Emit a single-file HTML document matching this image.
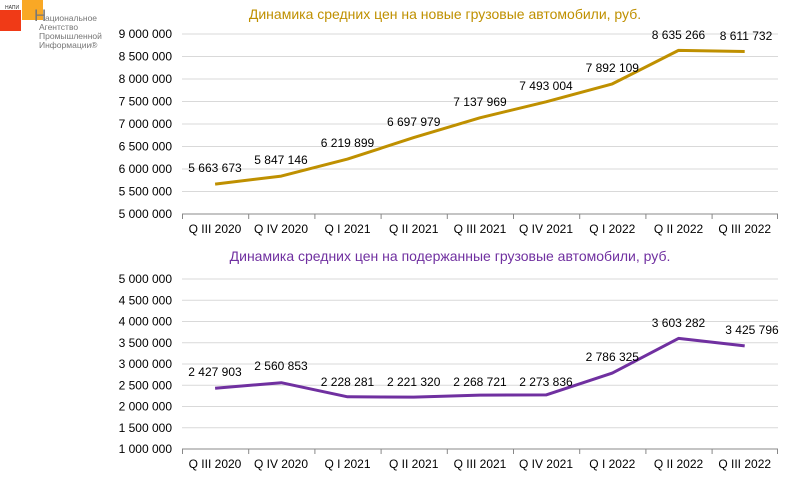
<!DOCTYPE html>
<html><head><meta charset="utf-8"><style>
body{margin:0;background:#fff;}
svg{display:block;font-family:"Liberation Sans",sans-serif;}
</style></head><body>
<svg width="800" height="486" viewBox="0 0 800 486" xmlns="http://www.w3.org/2000/svg">
<!-- logo -->
<rect x="0" y="10" width="21" height="21" fill="#f03a17"/>
<rect x="22" y="0" width="21" height="20" fill="#f9a825"/>
<text x="5" y="9" font-size="5" fill="#333">НАПИ</text>
<text x="34" y="21" font-size="17" fill="#777">Н</text>
<text x="45" y="21" font-size="8.5" fill="#777">ациональное</text>
<text x="39" y="30" font-size="8.5" fill="#777">Агентство</text>
<text x="39" y="39" font-size="8.5" fill="#777">Промышленной</text>
<text x="39" y="48" font-size="8.5" fill="#777">Информации®</text>

<!-- chart 1 -->
<text x="445" y="19" font-size="14" fill="#bf9000" text-anchor="middle">Динамика средних цен на новые грузовые автомобили, руб.</text>
<g stroke="#d9d9d9" stroke-width="1">
<line x1="182" x2="778" y1="34" y2="34"/><line x1="182" x2="778" y1="56.5" y2="56.5"/><line x1="182" x2="778" y1="79" y2="79"/><line x1="182" x2="778" y1="101.5" y2="101.5"/><line x1="182" x2="778" y1="124" y2="124"/><line x1="182" x2="778" y1="146.5" y2="146.5"/><line x1="182" x2="778" y1="169" y2="169"/><line x1="182" x2="778" y1="191.5" y2="191.5"/>
</g>
<g stroke="#888" stroke-width="1"><line x1="182" x2="778" y1="214" y2="214"/>
<line x1="182.5" x2="182.5" y1="214" y2="219"/><line x1="248.7" x2="248.7" y1="214" y2="219"/><line x1="314.9" x2="314.9" y1="214" y2="219"/><line x1="381.1" x2="381.1" y1="214" y2="219"/><line x1="447.3" x2="447.3" y1="214" y2="219"/><line x1="513.5" x2="513.5" y1="214" y2="219"/><line x1="579.7" x2="579.7" y1="214" y2="219"/><line x1="645.9" x2="645.9" y1="214" y2="219"/><line x1="712.1" x2="712.1" y1="214" y2="219"/><line x1="777.5" x2="777.5" y1="214" y2="219"/></g>
<g font-size="12" fill="#000" text-anchor="end">
<text x="172" y="38">9 000 000</text><text x="172" y="60.5">8 500 000</text><text x="172" y="83">8 000 000</text><text x="172" y="105.5">7 500 000</text><text x="172" y="128">7 000 000</text><text x="172" y="150.5">6 500 000</text><text x="172" y="173">6 000 000</text><text x="172" y="195.5">5 500 000</text><text x="172" y="218">5 000 000</text>
</g>
<g font-size="12" fill="#000" text-anchor="middle">
<text x="215" y="233">Q III 2020</text><text x="281" y="233">Q IV 2020</text><text x="347.5" y="233">Q I 2021</text><text x="413.7" y="233">Q II 2021</text><text x="480" y="233">Q III 2021</text><text x="546" y="233">Q IV 2021</text><text x="612.3" y="233">Q I 2022</text><text x="678.5" y="233">Q II 2022</text><text x="744.7" y="233">Q III 2022</text>
</g>
<polyline fill="none" stroke="#bf9000" stroke-width="3" stroke-linejoin="round" points="215.1,184.1 281.3,176.1 347.5,159.1 413.7,137.6 479.9,117.8 546.1,101.8 612.3,83.9 678.5,50.4 744.7,51.5"/>
<g font-size="12" fill="#000" text-anchor="middle">
<text x="215" y="172">5 663 673</text><text x="281" y="164">5 847 146</text><text x="347.5" y="147">6 219 899</text><text x="413.7" y="126">6 697 979</text><text x="480" y="106">7 137 969</text><text x="546" y="90">7 493 004</text><text x="612.3" y="72">7 892 109</text><text x="678.5" y="39">8 635 266</text><text x="746" y="40">8 611 732</text>
</g>

<!-- chart 2 -->
<text x="450" y="261" font-size="14" fill="#7030a0" text-anchor="middle">Динамика средних цен на подержанные грузовые автомобили, руб.</text>
<g stroke="#d9d9d9" stroke-width="1">
<line x1="182" x2="778" y1="279" y2="279"/><line x1="182" x2="778" y1="300.25" y2="300.25"/><line x1="182" x2="778" y1="321.5" y2="321.5"/><line x1="182" x2="778" y1="342.75" y2="342.75"/><line x1="182" x2="778" y1="364" y2="364"/><line x1="182" x2="778" y1="385.25" y2="385.25"/><line x1="182" x2="778" y1="406.5" y2="406.5"/><line x1="182" x2="778" y1="427.75" y2="427.75"/>
</g>
<g stroke="#888" stroke-width="1"><line x1="182" x2="778" y1="449" y2="449"/>
<line x1="182.5" x2="182.5" y1="449" y2="454"/><line x1="248.7" x2="248.7" y1="449" y2="454"/><line x1="314.9" x2="314.9" y1="449" y2="454"/><line x1="381.1" x2="381.1" y1="449" y2="454"/><line x1="447.3" x2="447.3" y1="449" y2="454"/><line x1="513.5" x2="513.5" y1="449" y2="454"/><line x1="579.7" x2="579.7" y1="449" y2="454"/><line x1="645.9" x2="645.9" y1="449" y2="454"/><line x1="712.1" x2="712.1" y1="449" y2="454"/><line x1="777.5" x2="777.5" y1="449" y2="454"/></g>
<g font-size="12" fill="#000" text-anchor="end">
<text x="172" y="283">5 000 000</text><text x="172" y="304.25">4 500 000</text><text x="172" y="325.5">4 000 000</text><text x="172" y="346.75">3 500 000</text><text x="172" y="368">3 000 000</text><text x="172" y="389.25">2 500 000</text><text x="172" y="410.5">2 000 000</text><text x="172" y="431.75">1 500 000</text><text x="172" y="453">1 000 000</text>
</g>
<g font-size="12" fill="#000" text-anchor="middle">
<text x="215" y="468">Q III 2020</text><text x="281" y="468">Q IV 2020</text><text x="347.5" y="468">Q I 2021</text><text x="413.7" y="468">Q II 2021</text><text x="480" y="468">Q III 2021</text><text x="546" y="468">Q IV 2021</text><text x="612.3" y="468">Q I 2022</text><text x="678.5" y="468">Q II 2022</text><text x="744.7" y="468">Q III 2022</text>
</g>
<polyline fill="none" stroke="#7030a0" stroke-width="3" stroke-linejoin="round" points="215.1,388.3 281.3,382.7 347.5,396.8 413.7,397.1 479.9,395.1 546.1,394.9 612.3,373.1 678.5,338.4 744.7,345.9"/>
<g font-size="12" fill="#000" text-anchor="middle">
<text x="215" y="376">2 427 903</text><text x="281" y="370">2 560 853</text><text x="347.5" y="386">2 228 281</text><text x="413.7" y="386">2 221 320</text><text x="480" y="386">2 268 721</text><text x="546" y="386">2 273 836</text><text x="612.3" y="361">2 786 325</text><text x="678.5" y="327">3 603 282</text><text x="752" y="334">3 425 796</text>
</g>
</svg>
</body></html>
